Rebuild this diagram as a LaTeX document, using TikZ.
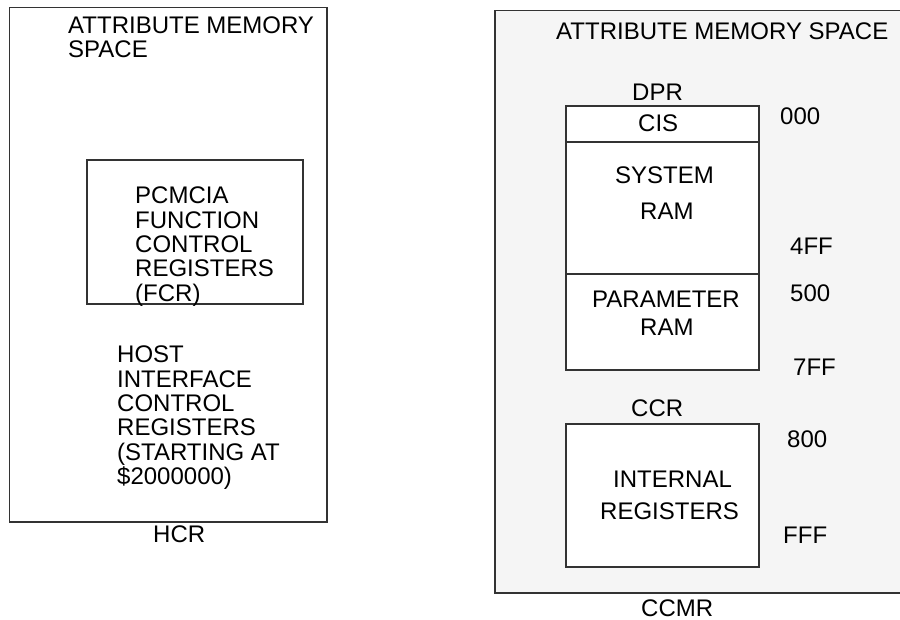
\documentclass[tikz,border=0pt]{standalone}
\usepackage{fontspec}
\setmainfont{Liberation Sans}
\usepackage{tikz}

\definecolor{panelgray}{HTML}{F5F5F5}
\definecolor{framegray}{HTML}{333333}

\tikzset{
    lbl/.style={font=\fontsize{24}{24.3}\selectfont, inner sep=0pt, anchor=base west},
    blk/.style={font=\fontsize{24}{24.3}\selectfont, inner sep=0pt, anchor=north west, align=left},
    membox/.style={draw=framegray, fill=white, line width=1.2pt}
}

\begin{document}
\begin{tikzpicture}[x=1pt,y=-1pt]
    \useasboundingbox (0,0) rectangle (900,620);

    % left panel: host side
    \draw[framegray, line width=1.2pt] (9.5,7.5) rectangle (327,522);
    \node[blk] (attrleft) at (68,16.5) {ATTRIBUTE MEMORY\\SPACE};
    \draw[framegray, line width=1.2pt] (87,160) rectangle (303,304);
    \node[blk] (fcr) at (135,187) {PCMCIA\\FUNCTION\\CONTROL\\REGISTERS\\(FCR)};
    \node[blk] (hostregs) at (117,346) {HOST\\INTERFACE\\CONTROL\\REGISTERS\\(STARTING AT\\\$2000000)};
    \node[lbl] (hcr) at (153,542) {HCR};

    % right panel: card side
    \draw[framegray, fill=panelgray, line width=1.2pt] (495,10.5) rectangle (910,593);
    \node[lbl] (attrright) at (556,40) {ATTRIBUTE MEMORY SPACE};

    \draw[membox] (566,106) rectangle (759,142);
    \draw[membox] (566,142) rectangle (759,274);
    \draw[membox] (566,274) rectangle (759,370);
    \draw[membox] (566,424) rectangle (759,567);

    \node[lbl] (dpr) at (632,101) {DPR};
    \node[lbl] (cis) at (638,132) {CIS};
    \node[lbl] (sysa) at (615,184) {SYSTEM};
    \node[lbl] (sysb) at (640,220) {RAM};
    \node[lbl] (parama) at (592,308) {PARAMETER};
    \node[lbl] (paramb) at (640,336) {RAM};
    \node[lbl] (ccr) at (631,417) {CCR};
    \node[lbl] (intra) at (613,487) {INTERNAL};
    \node[lbl] (intrb) at (600,519) {REGISTERS};
    \node[lbl] (ccmr) at (641,616) {CCMR};

    % addresses
    \node[lbl] (a000) at (780,125) {000};
    \node[lbl] (a4ff) at (790,255) {4FF};
    \node[lbl] (a500) at (790,302) {500};
    \node[lbl] (a7ff) at (793,375) {7FF};
    \node[lbl] (a800) at (787,447) {800};
    \node[lbl] (afff) at (783,543) {FFF};
\end{tikzpicture}
\end{document}
